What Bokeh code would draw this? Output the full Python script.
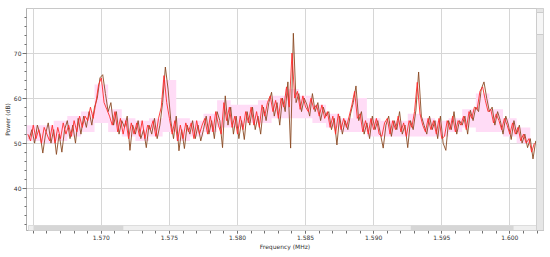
from bokeh.plotting import figure
from bokeh.models import FixedTicker, BoxAnnotation, Range1d, NumeralTickFormatter
from bokeh.embed import file_html
from bokeh.resources import INLINE
import numpy as np

# ---- data ----
# live trace bins start half a bin after the averaged trace bins
live_start_mhz = 1.5647
avg_start_mhz = 1.5646
freq_step_mhz = 0.0002

live_db = [
    51, 53, 50, 54, 52, 47.8, 52, 54.5, 50, 53,
    47.5, 52, 48, 53, 55, 51, 54, 50, 55.5, 52,
    56, 53.5, 57, 54, 58, 60, 64.5, 65.2, 61, 57,
    59, 54, 57, 52, 55, 53.5, 56, 48.4, 54, 52,
    55, 51, 53, 49, 54, 52, 55.5, 51, 54, 59,
    66.9, 62, 55, 51, 56, 48.3, 53, 48.8, 54, 52,
    55, 51, 54, 50.5, 53, 56, 52, 55, 51, 57,
    55, 49, 60.5, 54, 58, 52, 56, 51, 55, 50.8,
    57, 54, 58, 53, 56, 52, 58, 55, 59, 61.3,
    56, 59, 54, 60, 57, 63.6, 48.9, 74.4, 59, 61,
    57, 60, 58.5, 56, 61, 57, 59, 55, 58, 56,
    57, 53, 55.5, 49.6, 56, 52, 55, 53, 56.5, 59,
    62.7, 55, 57, 52, 54.5, 51, 56, 53, 55, 52,
    48.9, 54, 56, 51.5, 55, 53, 57, 52, 54, 49,
    55, 53, 57.3, 65.8, 56, 54, 52, 56, 53, 55,
    51, 56, 50, 48.4, 55, 53, 57, 52, 55, 54,
    56, 52, 57.3, 55, 58, 57, 62, 63.6, 60, 57,
    58, 54, 57, 55, 52, 56, 54, 50.8, 55, 52,
    54, 50, 52, 49, 51, 46.5, 50.5,
]

avg_db = [
    52, 50.5, 54, 51, 53, 50, 53.5, 52, 50.5, 54,
    50, 53.5, 51, 54.5, 52, 54, 51.5, 55, 52.5, 56,
    53.5, 56, 55, 58, 55.5, 59, 63, 64.5, 59, 57.5,
    56, 54, 57, 52.5, 55.5, 52, 55, 51, 54.5, 52,
    54.5, 51.5, 55, 51, 54, 53, 55, 51.5, 55.5, 58,
    65, 59, 55.5, 52, 55, 50.5, 54, 51, 54.5, 52.5,
    54.5, 51, 55, 52, 54, 55.5, 52, 56, 52.5, 57,
    54, 52, 59, 55, 58, 53.5, 56, 52, 56, 53,
    57, 54.5, 58, 54, 57, 53.5, 58.5, 56, 59, 60.5,
    57, 59.5, 55.5, 60, 58, 62.5, 58, 70, 60, 61.5,
    57.5, 60.5, 58, 57, 60, 57.5, 58.5, 56, 58.5, 55.5,
    57, 53.5, 56, 52, 56.5, 53, 55.5, 53.5, 56, 58.5,
    61.5, 55.5, 56.5, 52.5, 55, 52, 55.5, 53, 55.5, 52,
    51.5, 54.5, 55.5, 52, 55, 53, 56, 52.5, 54.5, 51.5,
    55, 53.5, 57, 63.5, 56.5, 54, 52.5, 55.5, 53, 55,
    52, 55.5, 51, 51.5, 55, 53, 56, 52.5, 55, 54,
    56, 53, 57, 55.5, 58, 57.5, 61.5, 62.5, 59.5, 57,
    57.5, 54.5, 56.5, 55, 53, 55.5, 54, 52, 54.5, 52,
    53.5, 50.5, 52, 50, 51, 48, 50,
]

env_start_mhz = 1.5645
env_step_mhz = 0.001
env_hi_db = [54, 54, 55, 56, 57, 63, 57.5, 55.5, 55, 55.5,
             64, 55.5, 55, 56.5, 59.5, 58.5, 58.5, 59.5, 60.5, 62,
             60.5, 58.5, 56.5, 55.5, 60, 55.5, 55, 55, 56.5, 55.5,
             55, 55.5, 57.5, 61, 57.5, 55.5, 53.5, 52]
env_lo_db = [50.5, 50, 50.5, 51.5, 52.5, 54.5, 52.5, 51.5, 50.5, 51.5,
             52.5, 50.5, 51.5, 52.5, 53.5, 53.5, 54.5, 54.5, 55.5, 55.5,
             55.5, 54.5, 53.5, 52.5, 52.5, 51.5, 51.5, 51.5, 51.5, 51.5,
             51.5, 52.5, 53.5, 52.5, 52.5, 51.5, 50, 48]

x_major = [1.570, 1.575, 1.580, 1.585, 1.590, 1.595, 1.600]
x_grid = [1.565, 1.570, 1.575, 1.580, 1.585, 1.590, 1.595, 1.600]
y_major = [40, 50, 60, 70]

# ---- derived x positions (frequency bins) ----
live_freq = live_start_mhz + freq_step_mhz * np.arange(len(live_db))
avg_freq = avg_start_mhz + freq_step_mhz * np.arange(len(avg_db))
env_freq = env_start_mhz + env_step_mhz * np.arange(len(env_hi_db))

XS, XE = 1.564503, 1.602471
YS, YE = 30.6, 79.9
FRAME_W, FRAME_H = 518, 222
PX_X = (XE - XS) / FRAME_W   # MHz per pixel
PX_Y = (YE - YS) / FRAME_H   # dB per pixel

p = figure(width=546, height=253, x_range=Range1d(XS, XE), y_range=Range1d(YS, YE),
           output_backend="svg", toolbar_location=None,
           min_border_left=25, min_border_right=3, min_border_top=8, min_border_bottom=23,
           background_fill_color="white", border_fill_color="white")
p.outline_line_color = "#c8c8c8"

p.varea_step(x=env_freq, y1=env_lo_db, y2=env_hi_db, step_mode="after",
             fill_color="#ffdcf6", fill_alpha=1.0)
p.line(live_freq, live_db, line_color="#8a4a22", line_width=0.9)
p.line(avg_freq, avg_db, line_color="#ff2b2b", line_width=0.9)

# grids
p.xgrid.ticker = FixedTicker(ticks=x_grid)
p.ygrid.ticker = FixedTicker(ticks=y_major)
for g in (p.xgrid[0], p.ygrid[0]):
    g.grid_line_color = "#d6d6d6"
    g.grid_line_width = 1

# axes
x_minor = [round(1.564 + 0.001 * k, 3) for k in range(39)]
p.xaxis.ticker = FixedTicker(ticks=x_major, minor_ticks=x_minor)
y_minor = list(range(32, 80, 2))
p.yaxis.ticker = FixedTicker(ticks=y_major, minor_ticks=y_minor)
p.xaxis.formatter = NumeralTickFormatter(format="0.000")

for ax in (p.xaxis[0], p.yaxis[0]):
    ax.axis_line_color = "#b0b0b0"
    ax.major_tick_line_color = "#707070"
    ax.minor_tick_line_color = "#707070"
    ax.major_tick_in = 0
    ax.minor_tick_in = 0
    ax.major_label_text_font = "DejaVu Sans"
    ax.major_label_text_font_size = "6px"
    ax.major_label_text_color = "#333333"
    ax.axis_label_text_font = "DejaVu Sans"
    ax.axis_label_text_font_size = "6px"
    ax.axis_label_text_font_style = "normal"
    ax.axis_label_text_color = "#333333"
    ax.major_label_standoff = 1
    ax.axis_label_standoff = 0

p.xaxis.major_tick_out = 3
p.xaxis.minor_tick_out = 3
p.yaxis.major_tick_out = 4
p.yaxis.minor_tick_out = 2
p.xaxis.axis_label = "Frequency (MHz)"
p.yaxis.axis_label = "Power (dB)"

# scrollbar chrome (widget decoration, positioned relative to range edges)
hb_bottom, hb_top = YS, YS + 5 * PX_Y
p.add_layout(BoxAnnotation(left=XS + 2 * PX_X, right=XE - 7 * PX_X, bottom=hb_bottom, top=hb_top,
                           fill_color="#efefef", fill_alpha=1, line_color="#dddddd", line_alpha=1))
p.add_layout(BoxAnnotation(left=XS + 7 * PX_X, right=XS + 97 * PX_X, bottom=hb_bottom, top=hb_top,
                           fill_color="#d6d6d6", fill_alpha=1, line_alpha=0))
p.add_layout(BoxAnnotation(left=XE - 133 * PX_X, right=XE - 30 * PX_X, bottom=hb_bottom, top=hb_top,
                           fill_color="#d6d6d6", fill_alpha=1, line_alpha=0))
vb_left = XE - 7 * PX_X
p.add_layout(BoxAnnotation(left=vb_left, right=XE, bottom=YS, top=YE,
                           fill_color="#e6e6e6", fill_alpha=1, line_color="#d0d0d0", line_alpha=1))
p.add_layout(BoxAnnotation(left=vb_left, right=XE, bottom=YE - 26 * PX_Y, top=YE - 4 * PX_Y,
                           fill_color="#f6f6f6", fill_alpha=1, line_color="#cccccc", line_alpha=1))

open("out.html", "w").write(file_html(p, INLINE))
